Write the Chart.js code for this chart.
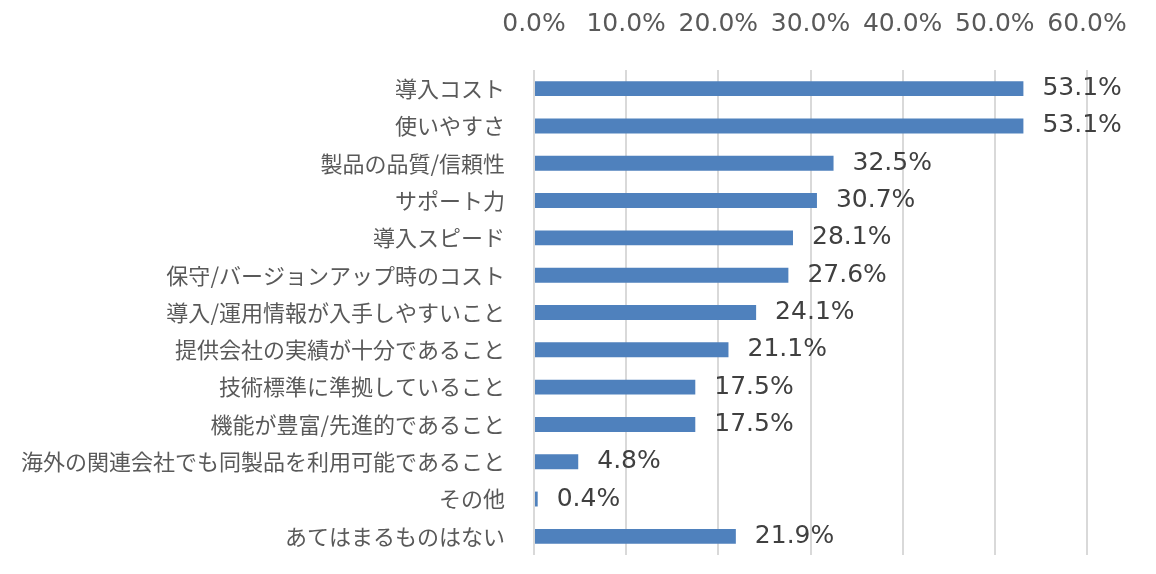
<!DOCTYPE html>
<html>
<head>
<meta charset="utf-8">
<script src="https://cdn.jsdelivr.net/npm/chart.js@4"></script>
<style>
  html, body { margin: 0; padding: 0; background: #fff; }
  #wrap { width: 1156px; height: 574px; }
</style>
</head>
<body>
<div id="wrap"><canvas id="chBar"></canvas></div>
<script>
// categories and values (%), top to bottom
const categories = [
  "導入コスト",
  "使いやすさ",
  "製品の品質/信頼性",
  "サポート力",
  "導入スピード",
  "保守/バージョンアップ時のコスト",
  "導入/運用情報が入手しやすいこと",
  "提供会社の実績が十分であること",
  "技術標準に準拠していること",
  "機能が豊富/先進的であること",
  "海外の関連会社でも同製品を利用可能であること",
  "その他",
  "あてはまるものはない"
];
const values = [53.1, 53.1, 32.5, 30.7, 28.1, 27.6, 24.1, 21.1, 17.5, 17.5, 4.8, 0.4, 21.9];
const xTicks = [0, 10, 20, 30, 40, 50, 60];

const barColor = "#4f81bd";
const gridColor = "#d9d9d9";

// draw value labels at the end of each bar
const valueLabels = {
  id: "valueLabels",
  afterDatasetsDraw(chart) {
    const c = chart.ctx;
    const meta = chart.getDatasetMeta(0);
    c.save();
    c.font = "25px 'DejaVu Sans'";
    c.fillStyle = "#404040";
    c.textAlign = "left";
    c.textBaseline = "middle";
    meta.data.forEach(function (bar, i) {
      c.fillText(values[i].toFixed(1) + "%", bar.x + 19, bar.y);
    });
    c.restore();
  }
};

let ctx = new Chart(document.getElementById("chBar"), {
  type: "bar",
  data: {
    labels: categories,
    datasets: [{
      data: values,
      backgroundColor: barColor,
      borderWidth: 0,
      categoryPercentage: 0.4,
      barPercentage: 1.0
    }]
  },
  options: {
    indexAxis: "y",
    responsive: true,
    maintainAspectRatio: false,
    animation: false,
    layout: { padding: { top: 10, right: 69, bottom: 19, left: 0 } },
    plugins: { legend: { display: false }, tooltip: { enabled: false } },
    scales: {
      x: {
        position: "top",
        min: 0,
        max: 60,
        afterBuildTicks(scale) {
          scale.ticks = xTicks.map(v => ({ value: v }));
        },
        afterFit(scale) {
          scale.height = 60;
          scale.paddingLeft = 0;
          scale.paddingRight = 0;
        },
        ticks: {
          color: "#595959",
          font: { family: "'DejaVu Sans'", size: 25 },
          padding: 31,
          maxRotation: 0,
          autoSkip: false,
          callback: v => v.toFixed(1) + "%"
        },
        grid: { color: gridColor, lineWidth: 2, drawTicks: false },
        border: { display: false }
      },
      y: {
        afterFit(scale) {
          scale.width = 534;
          scale.paddingTop = 0;
          scale.paddingBottom = 0;
        },
        ticks: {
          color: "#595959",
          font: { family: "'Noto Sans CJK JP'", size: 22 },
          padding: 21,
          autoSkip: false
        },
        grid: { display: false },
        border: { display: false }
      }
    }
  },
  plugins: [valueLabels]
});
</script>
</body>
</html>
